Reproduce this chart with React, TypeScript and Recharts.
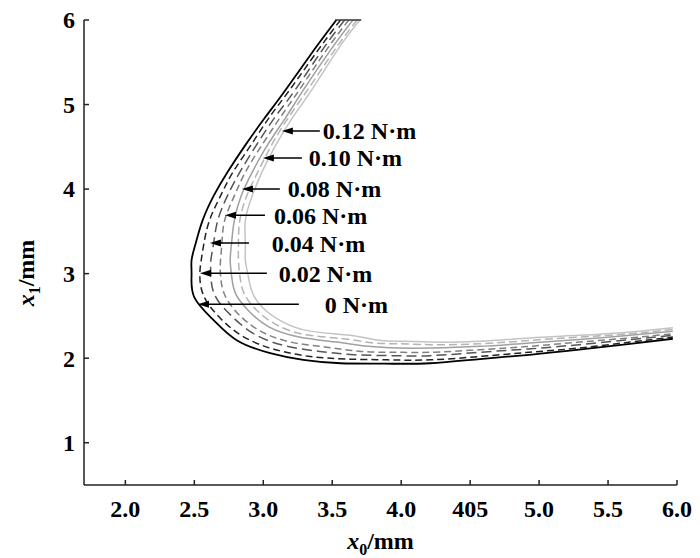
import React from "react";
import {
  LineChart,
  Line,
  XAxis,
  YAxis,
  Label,
  ReferenceLine,
  ReferenceDot,
} from "recharts";

// x0 / x1 pairs (mm), in drawing order
const curve000: [number, number][] = [
  [3.53, 6.0], [3.37, 5.65], [3.16, 5.17], [3.01, 4.84], [2.87, 4.52], [2.74, 4.2],
  [2.64, 3.92], [2.56, 3.63], [2.51, 3.36], [2.48, 3.16], [2.48, 2.98], [2.5, 2.72],
  [2.64, 2.45], [2.81, 2.21], [3.05, 2.06], [3.29, 1.98], [3.56, 1.94], [3.88, 1.935],
  [4.21, 1.94], [4.57, 1.99], [4.93, 2.04], [5.29, 2.1], [5.66, 2.17], [5.97, 2.23],
];
const curve002: [number, number][] = [
  [3.56, 6.0], [3.4, 5.65], [3.19, 5.17], [3.04, 4.84], [2.91, 4.52], [2.78, 4.2],
  [2.69, 3.92], [2.61, 3.63], [2.57, 3.36], [2.55, 3.16], [2.54, 2.98], [2.57, 2.73],
  [2.69, 2.47], [2.86, 2.25], [3.09, 2.1], [3.34, 2.02], [3.6, 1.99], [3.9, 1.98],
  [4.21, 1.98], [4.57, 2.02], [4.93, 2.07], [5.29, 2.12], [5.66, 2.19], [5.97, 2.25],
];
const curve004: [number, number][] = [
  [3.59, 6.0], [3.43, 5.65], [3.23, 5.17], [3.08, 4.84], [2.95, 4.52], [2.83, 4.2],
  [2.74, 3.92], [2.67, 3.63], [2.64, 3.36], [2.62, 3.16], [2.62, 2.98], [2.65, 2.74],
  [2.77, 2.5], [2.93, 2.29], [3.15, 2.15], [3.41, 2.08], [3.66, 2.04], [3.93, 2.03],
  [4.21, 2.03], [4.57, 2.07], [4.93, 2.11], [5.29, 2.16], [5.66, 2.22], [5.97, 2.27],
];
const curve006: [number, number][] = [
  [3.62, 6.0], [3.46, 5.65], [3.26, 5.17], [3.12, 4.84], [2.99, 4.52], [2.87, 4.2],
  [2.79, 3.92], [2.72, 3.63], [2.7, 3.36], [2.69, 3.16], [2.69, 2.98], [2.72, 2.75],
  [2.82, 2.52], [2.98, 2.32], [3.2, 2.19], [3.46, 2.13], [3.71, 2.08], [3.96, 2.07],
  [4.21, 2.07], [4.57, 2.1], [4.93, 2.14], [5.29, 2.19], [5.66, 2.24], [5.97, 2.29],
];
const curve008: [number, number][] = [
  [3.65, 6.0], [3.49, 5.65], [3.29, 5.17], [3.16, 4.84], [3.03, 4.52], [2.92, 4.2],
  [2.84, 3.92], [2.79, 3.63], [2.77, 3.36], [2.76, 3.16], [2.77, 2.98], [2.8, 2.76],
  [2.9, 2.55], [3.04, 2.37], [3.26, 2.25], [3.53, 2.19], [3.76, 2.14], [3.98, 2.12],
  [4.21, 2.12], [4.57, 2.14], [4.93, 2.18], [5.29, 2.22], [5.66, 2.27], [5.97, 2.32],
];
const curve010: [number, number][] = [
  [3.68, 6.0], [3.52, 5.65], [3.32, 5.17], [3.18, 4.84], [3.06, 4.52], [2.96, 4.2],
  [2.88, 3.92], [2.83, 3.63], [2.82, 3.36], [2.82, 3.16], [2.83, 2.98], [2.86, 2.77],
  [2.95, 2.57], [3.09, 2.4], [3.3, 2.28], [3.58, 2.23], [3.8, 2.18], [4.0, 2.17],
  [4.21, 2.16], [4.57, 2.17], [4.93, 2.21], [5.29, 2.25], [5.66, 2.29], [5.97, 2.34],
];
const curve012: [number, number][] = [
  [3.7, 6.0], [3.54, 5.65], [3.35, 5.17], [3.21, 4.84], [3.09, 4.52], [2.99, 4.2],
  [2.92, 3.92], [2.87, 3.63], [2.87, 3.36], [2.87, 3.16], [2.89, 2.98], [2.92, 2.78],
  [3.0, 2.59], [3.14, 2.43], [3.34, 2.32], [3.63, 2.27], [3.85, 2.21], [4.03, 2.2],
  [4.21, 2.19], [4.57, 2.2], [4.93, 2.24], [5.29, 2.27], [5.66, 2.31], [5.97, 2.36],
];

const curves = [curve000, curve002, curve004, curve006, curve008, curve010, curve012];

// annotation arrows: torque label, height, arrow tip, arrow tail, text start
const annLabels = ["0.12", "0.10", "0.08", "0.06", "0.04", "0.02", "0"];
const annY = [4.686, 4.367, 4.0, 3.692, 3.361, 3.006, 2.639];
const annTip = [3.135, 2.997, 2.845, 2.722, 2.613, 2.541, 2.526];
const annTail = [3.41, 3.28, 3.12, 3.012, 2.896, 3.026, 3.258];
const annTextX = [3.432, 3.33, 3.178, 3.077, 3.062, 3.113, 3.446];

// where the curves are cut off at the top of the plot
const clipSpan = [3.52, 3.71];

const xTicks = [2.0, 2.5, 3.0, 3.5, 4.0, 4.5, 5.0, 5.5, 6.0];
const xTickLabels = ["2.0", "2.5", "3.0", "3.5", "4.0", "405", "5.0", "5.5", "6.0"];
const yTicks = [1, 2, 3, 4, 5, 6];

const lineStyles = [
  { stroke: "#000000", width: 1.8, dash: undefined },
  { stroke: "#222222", width: 1.5, dash: "7 4" },
  { stroke: "#555555", width: 1.5, dash: "10 5" },
  { stroke: "#808080", width: 1.5, dash: "7 4" },
  { stroke: "#a0a0a0", width: 1.5, dash: undefined },
  { stroke: "#b4b4b4", width: 1.5, dash: "8 4" },
  { stroke: "#c4c4c4", width: 1.5, dash: undefined },
];

const SERIF = "Liberation Serif";

const XTick = (props: any) => {
  const { x, y, index } = props;
  return (
    <g>
      <line x1={x} y1={y} x2={x} y2={y - 5} stroke="#222" strokeWidth={1.5} />
      <text x={x} y={y + 32} textAnchor="middle" fontFamily={SERIF} fontWeight="bold" fontSize={24} fill="#000">
        {xTickLabels[index]}
      </text>
    </g>
  );
};

const YTick = (props: any) => {
  const { x, y, payload } = props;
  return (
    <g>
      <line x1={x} y1={y} x2={x + 5} y2={y} stroke="#222" strokeWidth={1.5} />
      <text x={x - 9} y={y} dy="0.35em" textAnchor="end" fontFamily={SERIF} fontWeight="bold" fontSize={24} fill="#000">
        {payload.value}
      </text>
    </g>
  );
};

const XTitle = (props: any) => {
  const { viewBox } = props;
  const cx = viewBox.x + viewBox.width / 2;
  return (
    <text x={cx} y={549} textAnchor="middle" fontFamily={SERIF} fontWeight="bold" fontSize={24} fill="#000">
      <tspan fontStyle="italic">x</tspan>
      <tspan fontSize={16} dy={6}>0</tspan>
      <tspan dy={-6}>/mm</tspan>
    </text>
  );
};

const YTitle = () => (
  <text
    x={0}
    y={0}
    transform="translate(34, 273) rotate(-90)"
    textAnchor="middle"
    fontFamily={SERIF}
    fontWeight="bold"
    fontSize={24}
    fill="#000"
  >
    <tspan fontStyle="italic">x</tspan>
    <tspan fontSize={16} dy={6}>1</tspan>
    <tspan dy={-6}>/mm</tspan>
  </text>
);

const ArrowShape = (p: any) => (
  <g>
    <line x1={p.x1} y1={p.y1} x2={p.x2 + 6} y2={p.y2} stroke="#000" strokeWidth={1.5} />
    <polygon
      points={`${p.x2},${p.y2} ${p.x2 + 11},${p.y2 - 3.5} ${p.x2 + 11},${p.y2 + 3.5}`}
      fill="#000"
    />
  </g>
);

export default function App() {
  return (
    <div style={{ position: "absolute", left: 0, top: 0, background: "#fff" }}>
      <LineChart width={700} height={558} margin={{ top: 20, right: 23, bottom: 13, left: 0 }}>
        <XAxis
          type="number"
          dataKey="x"
          domain={[1.7, 6.0]}
          ticks={xTicks}
          tick={<XTick />}
          tickSize={0}
          tickMargin={0}
          tickLine={false}
          height={60}
          axisLine={{ stroke: "#222", strokeWidth: 1.5 }}
          allowDataOverflow
        >
          <Label content={<XTitle />} />
        </XAxis>
        <YAxis
          type="number"
          domain={[0.5, 6]}
          ticks={yTicks}
          tick={<YTick />}
          tickSize={0}
          tickMargin={0}
          tickLine={false}
          width={84}
          axisLine={{ stroke: "#222", strokeWidth: 1.5 }}
          allowDataOverflow
        >
          <Label content={<YTitle />} />
        </YAxis>
        {curves.map((c, i) => (
          <Line
            key={`curve-${i}`}
            data={c.map(([x, y]) => ({ x, y }))}
            dataKey="y"
            type="natural"
            stroke={lineStyles[i].stroke}
            strokeWidth={lineStyles[i].width}
            strokeDasharray={lineStyles[i].dash}
            dot={false}
            activeDot={false}
            isAnimationActive={false}
          />
        ))}
        <ReferenceLine
          segment={[
            { x: clipSpan[0], y: 6 },
            { x: clipSpan[1], y: 6 },
          ]}
          stroke="#333"
          strokeWidth={1.5}
        />
        {annLabels.map((lab, i) => (
          <ReferenceLine
            key={`arrow-${i}`}
            segment={[
              { x: annTail[i], y: annY[i] },
              { x: annTip[i], y: annY[i] },
            ]}
            shape={<ArrowShape />}
          />
        ))}
        {annLabels.map((lab, i) => (
          <ReferenceDot
            key={`text-${i}`}
            x={annTextX[i]}
            y={annY[i]}
            r={0}
            shape={(p: any) => (
              <text x={p.cx} y={p.cy} dy="0.35em" fontFamily={SERIF} fontWeight="bold" fontSize={24} fill="#000">
                {`${lab} N·m`}
              </text>
            )}
          />
        ))}
      </LineChart>
    </div>
  );
}
